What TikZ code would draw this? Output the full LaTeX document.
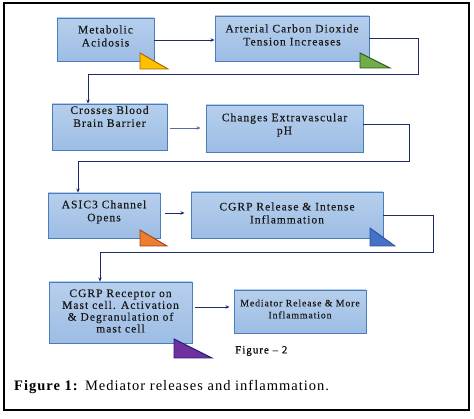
\documentclass[tikz,border=0pt]{standalone}
\usepackage{fontspec}
\setmainfont{Liberation Serif}
\newfontfamily\boxfont[LetterSpace=9, FakeBold=0.35]{Liberation Serif}
\newfontfamily\capfont[LetterSpace=7]{Liberation Serif}
\usetikzlibrary{arrows.meta}
\definecolor{boxfillA}{HTML}{B6CFEC}
\definecolor{boxfillB}{HTML}{9DBDE5}
\definecolor{boxline}{HTML}{4A7EBB}
\definecolor{conn}{HTML}{1F2A6B}
\definecolor{connlight}{HTML}{5A6A9A}
\definecolor{triY}{HTML}{FFC000}
\definecolor{triYl}{HTML}{A66300}
\definecolor{triG}{HTML}{70AD47}
\definecolor{triGl}{HTML}{2F5020}
\definecolor{triO}{HTML}{ED7D31}
\definecolor{triOl}{HTML}{A04010}
\definecolor{triB}{HTML}{4472C4}
\definecolor{triBl}{HTML}{2F4F9F}
\definecolor{triP}{HTML}{7030A0}
\definecolor{triPl}{HTML}{1F1F6F}
\tikzset{
  flowbox/.style={draw=boxline, line width=0.9pt, top color=boxfillA, bottom color=boxfillB,
    align=center, inner sep=2pt},
  boxtext/.style={font=\boxfont\fontsize{11.5}{13}\selectfont, align=center, text=black!90},
  arr/.style={draw=conn, line width=0.9pt, -{Stealth[length=4pt,width=3.5pt]}},
  tri/.style={line width=0.9pt},
}
\begin{document}
\begin{tikzpicture}[x=1pt,y=-1pt]
\useasboundingbox (0,0) rectangle (474,419);
\draw[line width=1.2pt] (4,3) rectangle (469,410);

% boxes
\node[flowbox, minimum width=97pt, minimum height=43pt] (b1) at (105.5,39.5) {};
\node[boxtext] (t1) at (105.5,36) {Metabolic\\Acidosis};
\node[flowbox, minimum width=154pt, minimum height=45pt] (b2) at (292,38.5) {};
\node[boxtext] (t2) at (292,35) {Arterial Carbon Dioxide\\Tension Increases};
\node[flowbox, minimum width=115pt, minimum height=46pt] (b3) at (109.5,127) {};
\node[boxtext] (t3) at (109.5,116.5) {Crosses Blood\\Brain Barrier};
\node[flowbox, minimum width=157pt, minimum height=47pt] (b4) at (284.5,128.5) {};
\node[boxtext] (t4) at (284.5,125) {Changes Extravascular\\pH};
\node[flowbox, minimum width=112pt, minimum height=45pt] (b5) at (104,215.5) {};
\node[boxtext] (t5) at (104,212) {ASIC3 Channel\\Opens};
\node[flowbox, minimum width=192pt, minimum height=46pt] (b6) at (287,215) {};
\node[boxtext] (t6) at (287,213) {CGRP Release \& Intense\\Inflammation};
\node[flowbox, minimum width=143pt, minimum height=61pt] (b7) at (120.5,312.5) {};
\node[boxtext, font=\boxfont\fontsize{11.5}{11.8}\selectfont] (t7) at (120.5,311) {CGRP Receptor on\\Mast cell. Activation\\\& Degranulation of\\mast cell};
\node[flowbox, minimum width=132pt, minimum height=43pt] (b8) at (300,311.5) {};
\node[boxtext, font=\boxfont\fontsize{9.8}{12}\selectfont] (t8) at (300,309) {Mediator Release \& More\\Inflammation};

% triangles
\filldraw[tri, fill=triY, draw=triYl] (140,53) -- (140,69) -- (168,69) -- cycle;
\filldraw[tri, fill=triG, draw=triGl] (360,53) -- (360,68) -- (390,68) -- cycle;
\filldraw[tri, fill=triO, draw=triOl] (140,230) -- (140,246) -- (167,246) -- cycle;
\filldraw[tri, fill=triB, draw=triBl] (370,228) -- (370,246) -- (395,246) -- cycle;
\filldraw[tri, fill=triP, draw=triPl] (174,339) -- (174,358) -- (212,358) -- cycle;

% connector bend points
\coordinate (k1) at (418,74);
\coordinate (k2) at (409,161);
\coordinate (k3) at (433,252);

% connectors
\draw[arr] ([yshift=-0.5pt]b1.east) -- ([yshift=-0.5pt]b1.east -| b2.west);
\draw[arr] (b2.east) -| (k1) -| ([xshift=-21.5pt]b3.north);
\draw[arr, draw=connlight] ([xshift=3pt,yshift=-1pt]b3.east) -- ([xshift=-5pt,yshift=-1pt]b3.east -| b4.west);
\draw[arr] ([yshift=4.5pt]b4.east) -| (k2) -| ([xshift=-26pt]b5.north);
\draw[arr] ([xshift=5pt,yshift=2.5pt]b5.east) -- ([xshift=-6pt,yshift=2.5pt]b5.east -| b6.west);
\draw[arr] (b6.east) -| (k3) -| ([xshift=-20.5pt]b7.north);
\draw[arr] ([xshift=3pt,yshift=5.5pt]b7.east) -- ([xshift=-4pt,yshift=5.5pt]b7.east -| b8.west);

% labels
\node[font=\boxfont\fontsize{11}{13}\selectfont, anchor=west, inner sep=0pt] (fig2) at (235,351) {Figure \textendash\ 2};
\node[font=\capfont\fontsize{14.5}{16}\selectfont, anchor=west, inner sep=0pt] (cap) at (14,387) {\textbf{Figure 1:} Mediator releases and inflammation.};
\end{tikzpicture}
\end{document}
